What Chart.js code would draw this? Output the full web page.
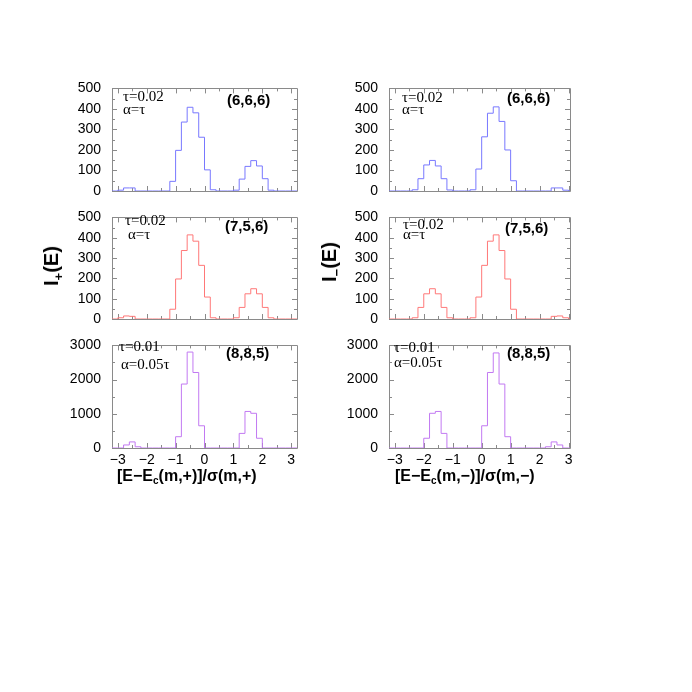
<!DOCTYPE html>
<html lang="en">
<head>
<meta charset="UTF-8">
<title>I+(E) and I-(E) distributions</title>
<script src="https://cdn.jsdelivr.net/npm/chart.js"></script>
<style>
  body { margin: 0; background: #fff; }
  #page { position: relative; width: 692px; height: 692px; overflow: hidden; }
  #page canvas { position: absolute; }
  .note { position: absolute; font-family: 'Liberation Serif', 'Times New Roman', serif; font-size: 15px; line-height: 15px; white-space: nowrap; }
  .tag { position: absolute; font-family: 'Liberation Sans', Arial, sans-serif; font-weight: bold; font-size: 15px; line-height: 15px; white-space: nowrap; }
  .xtitle { position: absolute; font-family: 'Liberation Sans', Arial, sans-serif; font-weight: bold; font-size: 16px; line-height: 16px; white-space: nowrap; }
  .xtitle sub { font-size: 10px; vertical-align: -3px; line-height: 0; }
  .ytitle { position: absolute; font-family: 'Liberation Sans', Arial, sans-serif; font-weight: bold; font-size: 20px; line-height: 20px; white-space: nowrap; transform: translate(-50%, -50%) rotate(-90deg); }
  .ytitle sub { font-size: 13px; vertical-align: -5px; line-height: 0; }
</style>
</head>
<body>
<div id="page">
  <canvas id="p1"></canvas>
  <canvas id="p2"></canvas>
  <canvas id="p3"></canvas>
  <canvas id="p4"></canvas>
  <canvas id="p5"></canvas>
  <canvas id="p6"></canvas>

  <div class="note" style="left:123px; top:89px;">τ=0.02</div>
  <div class="note" style="left:123px; top:102px;">α=τ</div>
  <div class="tag" style="left:227px; top:92px;">(6,6,6)</div>

  <div class="note" style="left:402px; top:90px;">τ=0.02</div>
  <div class="note" style="left:402px; top:102px;">α=τ</div>
  <div class="tag" style="left:507px; top:90px;">(6,6,6)</div>

  <div class="note" style="left:125px; top:213px;">τ=0.02</div>
  <div class="note" style="left:128px; top:227px;">α=τ</div>
  <div class="tag" style="left:225px; top:218px;">(7,5,6)</div>

  <div class="note" style="left:403px; top:217px;">τ=0.02</div>
  <div class="note" style="left:403px; top:227px;">α=τ</div>
  <div class="tag" style="left:505px; top:220px;">(7,5,6)</div>

  <div class="note" style="left:119px; top:339px;">τ=0.01</div>
  <div class="note" style="left:121px; top:357px;">α=0.05τ</div>
  <div class="tag" style="left:226px; top:345px;">(8,8,5)</div>

  <div class="note" style="left:394px; top:340px;">τ=0.01</div>
  <div class="note" style="left:394px; top:355px;">α=0.05τ</div>
  <div class="tag" style="left:507px; top:345px;">(8,8,5)</div>

  <div class="xtitle" style="left:117px; top:468px;">[E−E<sub>c</sub>(m,+)]/σ(m,+)</div>
  <div class="xtitle" style="left:395px; top:468px;">[E−E<sub>c</sub>(m,−)]/σ(m,−)</div>

  <div class="ytitle" style="left:51px; top:266px;">I<sub>+</sub>(E)</div>
  <div class="ytitle" style="left:329px; top:262px;">I<sub>−</sub>(E)</div>
</div>

<script>
  // bin edges of the histograms (32 bins of width 0.2)
  const binEdges = [-3.2, -3.0, -2.8, -2.6, -2.4, -2.2, -2.0, -1.8, -1.6, -1.4, -1.2,
                    -1.0, -0.8, -0.6, -0.4, -0.2, 0.0, 0.2, 0.4, 0.6, 0.8, 1.0,
                    1.2, 1.4, 1.6, 1.8, 2.0, 2.2, 2.4, 2.6, 2.8, 3.0, 3.2];

  // counts per bin
  const plus666  = [0, 4, 15, 15, 0, 0, 0, 0, 0, 0, 47, 198, 336, 408, 381, 262, 103, 6, 0, 0, 0, 4, 58, 120, 148, 122, 60, 4, 0, 0, 0, 0];
  const minus666 = [0, 0, 0, 0, 6, 60, 127, 149, 122, 60, 5, 0, 0, 0, 6, 107, 264, 379, 410, 339, 200, 50, 0, 0, 0, 0, 0, 0, 15, 15, 4, 0];
  const plus756  = [0, 6, 15, 13, 0, 0, 0, 0, 0, 0, 48, 197, 337, 414, 383, 264, 108, 6, 0, 0, 0, 6, 57, 124, 149, 124, 57, 6, 0, 0, 0, 0];
  const minus756 = [0, 0, 0, 0, 6, 57, 124, 149, 124, 57, 6, 0, 0, 0, 6, 108, 264, 383, 414, 337, 197, 48, 0, 0, 0, 0, 0, 0, 13, 15, 6, 0];
  const plus885  = [0, 0, 89, 178, 36, 0, 0, 0, 0, 0, 0, 330, 1870, 2805, 2208, 650, 0, 0, 0, 0, 0, 0, 427, 1069, 1015, 285, 0, 0, 0, 0, 0, 0];
  const minus885 = [0, 0, 0, 0, 0, 0, 285, 1015, 1069, 427, 0, 0, 0, 0, 0, 0, 650, 2208, 2780, 1870, 330, 0, 0, 0, 0, 0, 0, 36, 178, 89, 0, 0];

  // tick labels
  const xTickLabels = [-3, -2, -1, 0, 1, 2, 3];
  const yTicks500 = [0, 100, 200, 300, 400, 500];
  const yTicks3000 = [0, 1000, 2000, 3000];

  Chart.defaults.font.family = "'Liberation Sans', Arial, sans-serif";
  Chart.defaults.color = '#000';

  const AXIS_W = 60, PAD_TOP = 10, PAD_RIGHT = 12, XAXIS_H = 26;

  // frame + inward tick marks on all four sides
  const frameTicks = {
    id: 'frameTicks',
    beforeDatasetsDraw(chart, args, opts) {
      const { ctx, chartArea: a, scales: { x, y } } = chart;
      ctx.save();
      ctx.strokeStyle = '#8a8a8a';
      ctx.lineWidth = 1;
      ctx.beginPath();
      ctx.rect(Math.round(a.left) + 0.5, Math.round(a.top) + 0.5,
               Math.round(a.width), Math.round(a.height));
      const xs = [];
      xTickLabels.forEach(v => { xs.push([v, 5]); xs.push([v + 0.5, 3]); });
      xs.forEach(([v, len]) => {
        if (v < x.min || v > x.max) return;
        const px = Math.round(x.getPixelForValue(v)) + 0.5;
        ctx.moveTo(px, a.bottom); ctx.lineTo(px, a.bottom - len);
        ctx.moveTo(px, a.top); ctx.lineTo(px, a.top + len);
      });
      const yt = opts.yTicks;
      const ys = [];
      yt.forEach((v, i) => {
        ys.push([v, 5]);
        if (i < yt.length - 1) ys.push([(v + yt[i + 1]) / 2, 3]);
      });
      ys.forEach(([v, len]) => {
        const py = Math.round(y.getPixelForValue(v)) + 0.5;
        ctx.moveTo(a.left, py); ctx.lineTo(a.left + len, py);
        ctx.moveTo(a.right, py); ctx.lineTo(a.right - len, py);
      });
      ctx.stroke();
      ctx.restore();
    }
  };

  const panels = [
    { id: 'p1', values: plus666,  color: '#7878ff', yTicks: yTicks500,  L: 112, R: 297, T: 79,  B: 191, xmax: 3.2,  labels: false },
    { id: 'p2', values: minus666, color: '#7878ff', yTicks: yTicks500,  L: 389, R: 570, T: 79,  B: 191, xmax: 3.05, labels: false },
    { id: 'p3', values: plus756,  color: '#ff7878', yTicks: yTicks500,  L: 112, R: 297, T: 208, B: 319, xmax: 3.2,  labels: false },
    { id: 'p4', values: minus756, color: '#ff7878', yTicks: yTicks500,  L: 389, R: 570, T: 208, B: 319, xmax: 3.05, labels: false },
    { id: 'p5', values: plus885,  color: '#c279f2', yTicks: yTicks3000, L: 112, R: 297, T: 336, B: 448, xmax: 3.2,  labels: true },
    { id: 'p6', values: minus885, color: '#c279f2', yTicks: yTicks3000, L: 389, R: 570, T: 336, B: 448, xmax: 3.05, labels: true }
  ];

  panels.forEach(p => {
    const canvas = document.getElementById(p.id);
    canvas.width = (p.R - p.L) + AXIS_W + PAD_RIGHT;
    canvas.height = (p.B - p.T) + PAD_TOP + XAXIS_H;
    canvas.style.left = (p.L - AXIS_W) + 'px';
    canvas.style.top = (p.T - PAD_TOP) + 'px';

    // step points at the left edge of every bin, closed at the last edge
    const points = binEdges.map((x, i) => ({ x: x, y: p.values[Math.min(i, p.values.length - 1)] }));
    const ymax = p.yTicks[p.yTicks.length - 1];

    new Chart(canvas.getContext('2d'), {
      type: 'line',
      data: {
        datasets: [{
          data: points,
          borderColor: p.color,
          borderWidth: 1,
          stepped: true,
          pointRadius: 0,
          fill: false
        }]
      },
      options: {
        responsive: false,
        animation: false,
        devicePixelRatio: 1,
        layout: { padding: { left: 0, top: PAD_TOP, right: PAD_RIGHT, bottom: 0 } },
        plugins: {
          legend: { display: false },
          tooltip: { enabled: false },
          frameTicks: { yTicks: p.yTicks }
        },
        scales: {
          x: {
            type: 'linear',
            min: -3.2,
            max: p.xmax,
            grid: { display: false, drawTicks: false },
            border: { display: false },
            afterBuildTicks: s => { s.ticks = xTickLabels.map(v => ({ value: v })); },
            afterFit: s => { s.height = XAXIS_H; },
            ticks: {
              display: p.labels,
              autoSkip: false,
              maxRotation: 0,
              padding: 4,
              font: { size: 14 },
              callback: v => (v < 0 ? '\u2212' + Math.abs(v) : String(v))
            }
          },
          y: {
            min: 0,
            max: ymax,
            grid: { display: false, drawTicks: false },
            border: { display: false },
            afterBuildTicks: s => { s.ticks = p.yTicks.map(v => ({ value: v })); },
            afterFit: s => { s.width = AXIS_W; },
            ticks: { padding: 11, font: { size: 14 }, callback: v => String(v) }
          }
        }
      },
      plugins: [frameTicks]
    });
  });
</script>
</body>
</html>
